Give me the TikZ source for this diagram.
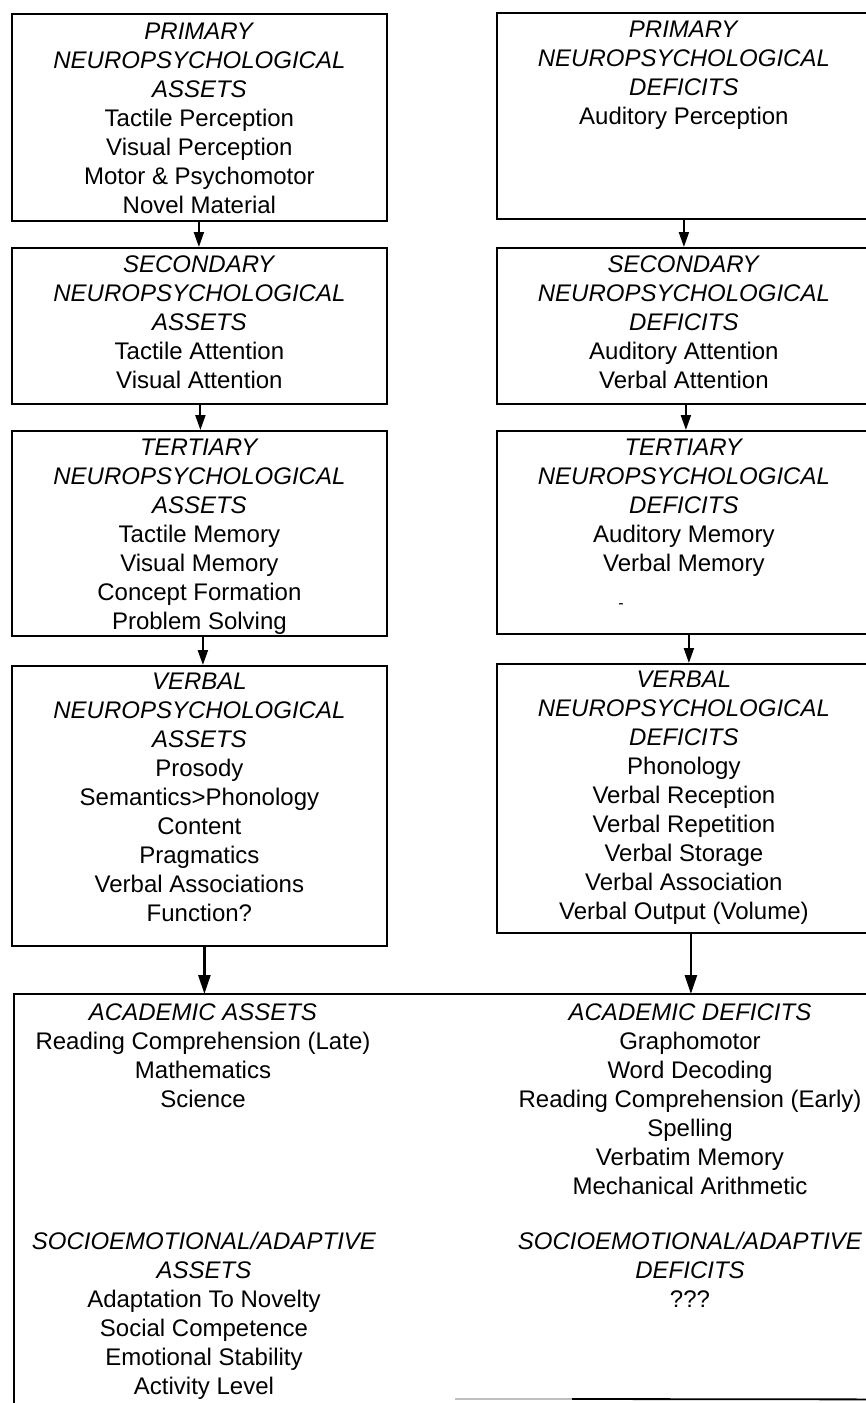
\documentclass[tikz,border=0pt]{standalone}
\usepackage{fontspec}
\setmainfont{Liberation Sans}
\usetikzlibrary{arrows.meta}
\begin{document}
\begin{tikzpicture}[x=1pt,y=1pt,
  frame/.style={draw=black, line width=1.8pt, inner sep=0pt, anchor=north west},
  boxtext/.style={anchor=north, align=center, inner sep=0pt, font=\fontsize{24}{29}\selectfont},
  flow/.style={line width=2pt, -{Triangle[length=15pt,width=10pt]}},
  bigflow/.style={line width=2.6pt, -{Triangle[length=19pt,width=12pt]}},
]
\useasboundingbox (0,0) rectangle (866,-1403);
\clip (0,0) rectangle (866,-1403);

% ---- left column: assets ----
\node[frame, minimum width=375pt, minimum height=207pt] (L1) at (11,-13) {};
\node[frame, minimum width=375pt, minimum height=156pt] (L2) at (11,-247) {};
\node[frame, minimum width=375pt, minimum height=205pt] (L3) at (11,-430) {};
\node[frame, minimum width=375pt, minimum height=280pt] (L4) at (11,-665) {};

% ---- right column: deficits ----
\node[frame, minimum width=374pt, minimum height=206pt] (R1) at (496,-12) {};
\node[frame, minimum width=374pt, minimum height=156pt] (R2) at (496,-247) {};
\node[frame, minimum width=374pt, minimum height=203pt] (R3) at (496,-430) {};
\node[frame, minimum width=374pt, minimum height=269pt] (R4) at (496,-663) {};

% ---- academic / socioemotional outcome box (open at the bottom left) ----
\node[inner sep=0pt, minimum width=856pt, minimum height=405pt, anchor=north west] (acad) at (14,-994) {};
\draw[line width=1.8pt] ([yshift=-6pt]acad.south west) -- (acad.north west) -- ([xshift=4pt]acad.north east);
\draw[line width=1.2pt, black!25] (455,-1399) -- (572,-1399);
\draw[line width=1.8pt] (572,-1399) -- (acad.south east);

% ---- texts ----
\node[boxtext] (L1t) at ([yshift=-10pt]L1.north) {\textit{PRIMARY}\\\textit{NEUROPSYCHOLOGICAL}\\\textit{ASSETS}\\Tactile Perception\\Visual Perception\\Motor \& Psychomotor\\Novel Material};
\node[boxtext] (L2t) at ([yshift=-9pt]L2.north) {\textit{SECONDARY}\\\textit{NEUROPSYCHOLOGICAL}\\\textit{ASSETS}\\Tactile Attention\\Visual Attention};
\node[boxtext] (L3t) at ([yshift=-9pt]L3.north) {\textit{TERTIARY}\\\textit{NEUROPSYCHOLOGICAL}\\\textit{ASSETS}\\Tactile Memory\\Visual Memory\\Concept Formation\\Problem Solving};
\node[boxtext] (L4t) at ([yshift=-8pt]L4.north) {\textit{VERBAL}\\\textit{NEUROPSYCHOLOGICAL}\\\textit{ASSETS}\\Prosody\\Semantics>Phonology\\Content\\Pragmatics\\Verbal Associations\\Function?};

\node[boxtext] (R1t) at ([yshift=-9pt]R1.north) {\textit{PRIMARY}\\\textit{NEUROPSYCHOLOGICAL}\\\textit{DEFICITS}\\Auditory Perception};
\node[boxtext] (R2t) at ([yshift=-9pt]R2.north) {\textit{SECONDARY}\\\textit{NEUROPSYCHOLOGICAL}\\\textit{DEFICITS}\\Auditory Attention\\Verbal Attention};
\node[boxtext] (R3t) at ([yshift=-9pt]R3.north) {\textit{TERTIARY}\\\textit{NEUROPSYCHOLOGICAL}\\\textit{DEFICITS}\\Auditory Memory\\Verbal Memory};
\node[inner sep=0pt, font=\fontsize{16}{18}\selectfont] (R3dash) at (621,-606) {-};
\node[boxtext] (R4t) at ([yshift=-8pt]R4.north) {\textit{VERBAL}\\\textit{NEUROPSYCHOLOGICAL}\\\textit{DEFICITS}\\Phonology\\Verbal Reception\\Verbal Repetition\\Verbal Storage\\Verbal Association\\Verbal Output (Volume)};

\node[boxtext] (acadL) at ([shift={(189,-10)}]acad.north west) {\textit{ACADEMIC ASSETS}\\Reading Comprehension (Late)\\Mathematics\\Science};
\node[boxtext] (acadR) at ([shift={(676,-10)}]acad.north west) {\textit{ACADEMIC DEFICITS}\\Graphomotor\\Word Decoding\\Reading Comprehension (Early)\\Spelling\\Verbatim Memory\\Mechanical Arithmetic};
\node[boxtext] (socL) at ([shift={(190,-238)}]acad.north west) {\textit{SOCIOEMOTIONAL/ADAPTIVE}\\\textit{ASSETS}\\Adaptation To Novelty\\Social Competence\\Emotional Stability\\Activity Level};
\node[boxtext] (socR) at ([shift={(676,-238)}]acad.north west) {\textit{SOCIOEMOTIONAL/ADAPTIVE}\\\textit{DEFICITS}\\???};

% ---- connectors ----
\coordinate (L4out) at ([xshift=5pt]L4.south);
\coordinate (R4out) at ([xshift=7pt]R4.south);
\draw[flow] ([xshift=-0.5pt]L1.south) -- ([xshift=-0.5pt]L2.north);
\draw[flow] ([xshift=1pt]L2.south) -- ([xshift=1pt]L3.north);
\draw[flow] ([xshift=3.5pt]L3.south) -- ([xshift=3.5pt]L4.north);
\draw[bigflow] (L4out) -- (L4out |- acad.north);

\draw[flow] (R1.south) -- (R2.north);
\draw[flow] ([xshift=2pt]R2.south) -- ([xshift=2pt]R3.north);
\draw[flow] ([xshift=5pt]R3.south) -- ([xshift=5pt]R4.north);
\draw[bigflow] (R4out) -- (R4out |- acad.north);
\end{tikzpicture}
\end{document}
